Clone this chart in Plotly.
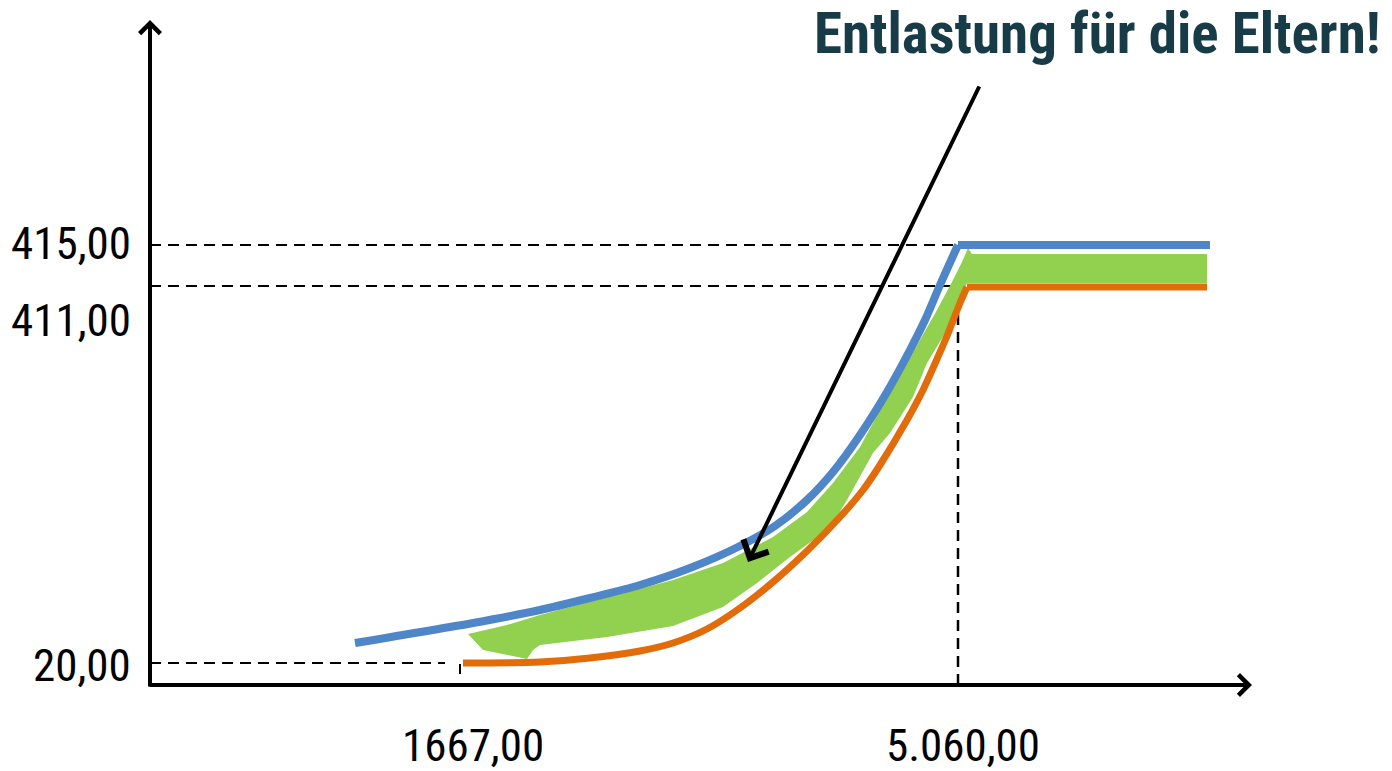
import plotly.graph_objects as go

# ---- schematic data (units: 1 unit = 10 px, origin at the axis corner) ----
blue_x = [20.5, 32.3, 39.0, 44.0, 49.0, 54.0, 59.0, 62.5, 65.7, 68.3, 71.0, 73.7, 76.0, 77.5, 79.0, 80.8, 106.0]
blue_y = [4.2, 6.2, 7.5, 8.7, 10.0, 11.7, 13.9, 15.9, 18.5, 21.3, 25.0, 29.3, 33.5, 36.5, 40.0, 44.0, 44.0]

orange_x = [31.3, 39.0, 44.0, 49.0, 52.3, 55.7, 59.0, 62.3, 65.7, 69.0, 71.3, 73.0, 75.7, 77.3, 78.7, 79.7,
            81.0, 81.7, 105.7]
orange_y = [2.2, 2.3, 2.7, 3.4, 4.2, 5.6, 7.7, 10.3, 13.4, 16.8, 19.5, 22.0, 26.5, 29.5, 32.6, 34.9,
            38.2, 39.8, 39.8]

green_x = [31.8, 35.7, 39.0, 45.7, 52.3, 57.3, 62.3, 65.7, 68.3, 71.0, 73.0, 75.0, 77.0, 78.7, 80.3, 81.2,
           81.8, 82.2, 105.7, 105.7, 81.7, 81.0, 79.7, 77.7, 76.3, 74.0, 72.3, 69.7, 68.0, 66.3, 64.0, 60.7,
           57.3, 52.3, 45.7, 39.0, 38.3, 37.7, 33.3, 31.8]
green_y = [5.1, 6.0, 7.0, 8.8, 10.5, 12.2, 14.8, 17.3, 20.2, 23.8, 27.5, 31.0, 34.5, 37.5, 40.5, 42.3,
           43.7, 43.1, 43.1, 40.2, 40.2, 38.8, 35.5, 32.2, 28.8, 25.2, 23.2, 18.5, 15.7, 14.5, 12.8, 10.2,
           7.8, 5.9, 4.8, 4.0, 3.5, 2.6, 3.5, 5.1]

# tick levels (schematic positions) and their labels
y_levels = [44.0, 39.9, 2.2]
y_labels = ["415,00", "411,00", "20,00"]
y_label_pos = [44.2, 36.5, 2.0]
x_levels = [31.0, 80.8]
x_labels = ["1667,00", "5.060,00"]
x_label_pos = [32.3, 81.3]

# extents
x_axis_end = 110.2
y_axis_end = 66.5
dash_ends_x = [80.8, 81.0, 29.5]
vline_top = 39.0

title_text = "Entlastung für die Eltern!"
arrow_tail = (83.0, 60.0)
arrow_tip = (59.8, 12.3)

BLUE = "#4E86C8"
ORANGE = "#E36C0A"
GREEN = "#92D050"
FONT = "Liberation Sans Narrow, Arial Narrow, Roboto Condensed, DejaVu Sans Condensed, sans-serif"

fig = go.Figure()

fig.add_trace(go.Scatter(x=green_x, y=green_y, mode="lines", fill="toself",
                         fillcolor=GREEN, line=dict(width=0, color=GREEN), hoverinfo="skip"))
# blue: curved part then flat part
fig.add_trace(go.Scatter(x=blue_x[:-1], y=blue_y[:-1], mode="lines",
                         line=dict(color=BLUE, width=8, shape="spline", smoothing=0.8)))
fig.add_trace(go.Scatter(x=blue_x[-2:], y=blue_y[-2:], mode="lines",
                         line=dict(color=BLUE, width=8)))
fig.add_trace(go.Scatter(x=orange_x[:-1], y=orange_y[:-1], mode="lines",
                         line=dict(color=ORANGE, width=7, shape="spline", smoothing=0.8)))
fig.add_trace(go.Scatter(x=orange_x[-2:], y=orange_y[-2:], mode="lines",
                         line=dict(color=ORANGE, width=7)))

shapes = []
for lvl, xe in zip(y_levels, dash_ends_x):
    shapes.append(dict(type="line", xref="x", yref="y", x0=0, x1=xe, y0=lvl, y1=lvl,
                       line=dict(color="black", width=2, dash="11px,7px"), layer="below"))
shapes.append(dict(type="line", xref="x", yref="y", x0=x_levels[1], x1=x_levels[1], y0=0, y1=vline_top,
                   line=dict(color="black", width=2.5, dash="11px,7px"), layer="below"))
shapes.append(dict(type="line", xref="x", yref="y", x0=x_levels[0], x1=x_levels[0], y0=1.1, y1=2.1,
                   line=dict(color="black", width=2)))

annotations = []
# axes with arrowheads
annotations.append(dict(x=0, y=y_axis_end, ax=0, ay=-0.3, xref="x", yref="y", axref="x", ayref="y",
                        text="", showarrow=True, arrowhead=4, arrowwidth=4, arrowsize=1,
                        arrowcolor="black", standoff=0, startstandoff=0))
annotations.append(dict(x=x_axis_end, y=0, ax=-0.2, ay=0, xref="x", yref="y", axref="x", ayref="y",
                        text="", showarrow=True, arrowhead=4, arrowwidth=4, arrowsize=1,
                        arrowcolor="black", standoff=0, startstandoff=0))
# pointer arrow
annotations.append(dict(x=arrow_tip[0], y=arrow_tip[1], ax=arrow_tail[0], ay=arrow_tail[1],
                        xref="x", yref="y", axref="x", ayref="y",
                        text="", showarrow=True, arrowhead=4, arrowwidth=4, arrowsize=1.35,
                        arrowcolor="black", standoff=0, startstandoff=0))
for lab, yp in zip(y_labels, y_label_pos):
    annotations.append(dict(x=-1.7, y=yp, xref="x", yref="y", text=lab, showarrow=False,
                            xanchor="right", yanchor="middle",
                            font=dict(family=FONT, size=45, color="black")))
for lab, xp in zip(x_labels, x_label_pos):
    annotations.append(dict(x=xp, y=-6.0, xref="x", yref="y", text=lab, showarrow=False,
                            xanchor="center", yanchor="middle",
                            font=dict(family=FONT, size=45, color="black")))
annotations.append(dict(x=123.3, y=65.2, xref="x", yref="y", text="<b>" + title_text + "</b>",
                        showarrow=False, xanchor="right", yanchor="middle",
                        font=dict(family=FONT, size=57, color="#173B47")))

fig.update_layout(
    width=1392, height=771,
    margin=dict(l=0, r=0, t=0, b=0),
    paper_bgcolor="white", plot_bgcolor="white",
    showlegend=False,
    xaxis=dict(range=[-15, 124.2], visible=False, fixedrange=True),
    yaxis=dict(range=[-8.6, 68.5], visible=False, fixedrange=True),
    shapes=shapes, annotations=annotations,
)

# remove the default 8 px page margin so the figure fills the window exactly
fig.write_html("out.html", config={"displayModeBar": False},
               post_script="document.body.style.margin='0';"
                           "document.body.style.overflow='hidden';")
